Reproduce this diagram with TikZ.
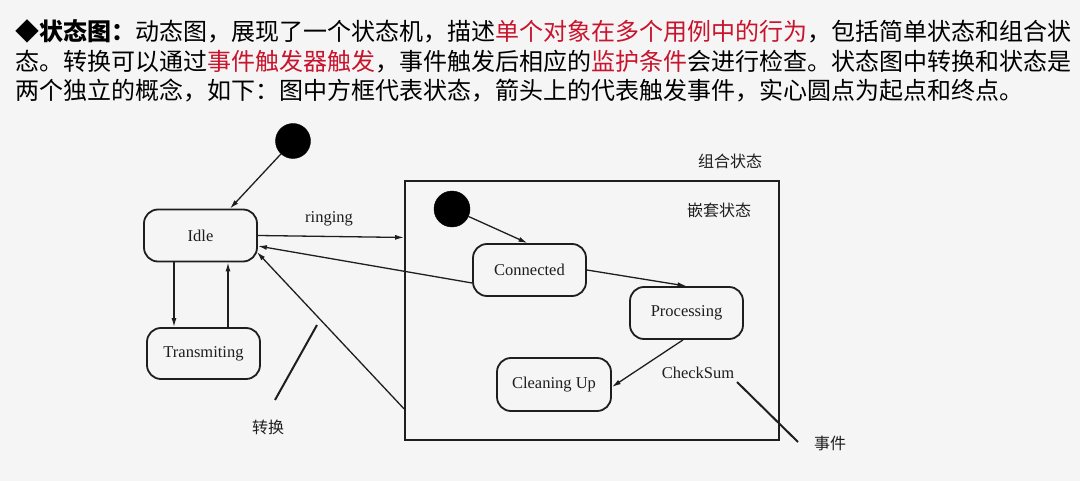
\documentclass[tikz,border=0pt]{standalone}
\usepackage{fontspec}
\setmainfont{Liberation Serif}
\newfontfamily\cjk{Noto Sans CJK SC}
\usetikzlibrary{arrows.meta,calc}
\definecolor{bg}{RGB}{245,245,245}
\definecolor{hl}{RGB}{200,20,45}
\definecolor{ink}{RGB}{30,30,30}
\tikzset{
  state/.style={draw=ink, line width=1.8pt, rounded corners=14pt, minimum width=113pt, minimum height=52pt, inner sep=0pt, font=\fontsize{16.5}{18}\selectfont, text=ink},
  startdot/.style={circle, fill=black, draw=black, minimum size=35pt, inner sep=0pt},
  arr/.style={draw=ink, line width=1.3pt, -{Latex[length=9pt,width=5pt]}},
  note/.style={draw=ink, line width=2pt},
  lbl/.style={inner sep=0pt, font=\fontsize{16.5}{18}\selectfont, text=ink},
  clbl/.style={inner sep=0pt, font=\cjk\fontsize{16}{18}\selectfont, text=ink},
  head/.style={anchor=base west, inner sep=0pt, font=\cjk\fontsize{24}{28}\selectfont, text=black}
}
\begin{document}
\begin{tikzpicture}[x=1pt,y=-1pt]
\fill[bg] (0,0) rectangle (1080,481);
\useasboundingbox (0,0) rectangle (1080,481);
% heading
\node[head] (h1) at (15,41) {{\bfseries ◆状态图：}动态图，展现了一个状态机，描述\textcolor{hl}{单个对象在多个用例中的行为}，包括简单状态和组合状};
\node[head] (h2) at (15,71) {态。转换可以通过\textcolor{hl}{事件触发器触发}，事件触发后相应的\textcolor{hl}{监护条件}会进行检查。状态图中转换和状态是};
\node[head] (h3) at (15,100) {两个独立的概念，如下：图中方框代表状态，箭头上的代表触发事件，实心圆点为起点和终点。};
% composite
\node[draw=ink, line width=1.8pt, minimum width=374pt, minimum height=259pt, inner sep=0pt] (comp) at (592,310.5) {};
\node[clbl] (zuhe) at (730,161) {组合状态};
\node[clbl] (qiantao) at (719,210) {嵌套状态};
% states
\node[startdot] (init) at (293,141) {};
\node[state] (idle) at (200.5,235.5) {Idle};
\node[state, minimum height=51pt] (trans) at (203.5,353.5) {Transmiting};
\node[startdot, minimum size=36pt] (init2) at (452,209) {};
\node[state] (conn) at (529.5,270) {Connected};
\node[state] (proc) at (686.5,313) {Processing};
\node[state, minimum width=114pt, minimum height=53pt] (clean) at (554,384.5) {Cleaning Up};
% labels
\node[lbl] (ringing) at (329,219) {ringing};
\node[lbl] (checksum) at (698,373) {CheckSum};
\node[clbl] (zhuanhuan) at (268,427) {转换};
\node[clbl] (shijian) at (830,443) {事件};
% connectors
\draw[arr] (init) -- ([xshift=29.5pt]idle.north);
\draw[arr] ([xshift=-26.5pt]idle.south) -- ([xshift=-26.5pt]idle.south |- trans.north);
\draw[arr] ([xshift=24.5pt]trans.north) -- ([xshift=24.5pt]trans.north |- idle.south);
\draw[arr] (idle.east) -- ($(comp.north west)!0.22!(comp.south west)$);
\draw[arr] ([yshift=-13pt]conn.west) -- ([yshift=-10.5pt]idle.east);
\draw[arr] ([yshift=32pt]comp.south west) -- ([yshift=-16.5pt,xshift=-1pt]idle.east);
\draw[arr] (init2) -- ([xshift=-2pt]conn.north);
\draw[arr] (conn.east) -- (proc.north);
\draw[arr] ([xshift=-3.5pt]proc.south) -- ([yshift=-2.5pt]clean.east);
% annotation lines
\coordinate (zhA) at (317,325);
\coordinate (zhB) at (275,400);
\draw[note] (zhA) -- (zhB);
\coordinate (sjA) at (737,382);
\coordinate (sjB) at (798,442);
\draw[note] (sjA) -- (sjB);
\end{tikzpicture}
\end{document}
